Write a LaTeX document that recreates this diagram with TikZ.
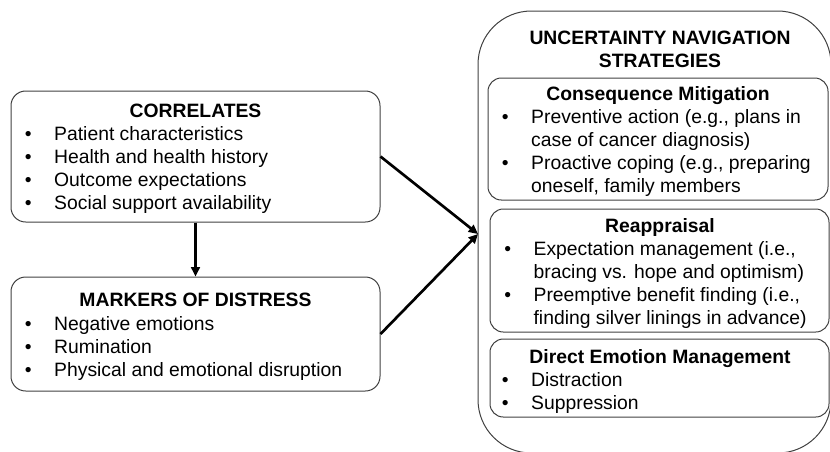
\documentclass[tikz,border=0pt]{standalone}
\usepackage{fontspec}
\setmainfont{Liberation Sans}
\usetikzlibrary{arrows.meta,fit}
\newcommand{\bul}{\makebox[22pt][l]{\textbullet}}

\begin{document}
\begin{tikzpicture}[x=0.75pt,y=0.75pt,yscale=-1,xscale=1,
  box/.style={draw={rgb, 255:red, 64; green, 64; blue, 64}, line width=0.75pt, inner sep=0pt},
  txt/.style={inner sep=0pt, font=\fontsize{14.5}{17.25}\selectfont},
  head/.style={txt, anchor=base, font=\fontsize{14.5}{17.25}\selectfont\bfseries},
  link/.style={line width=2pt, -{Triangle[length=7pt,width=6.5pt]}}]
\useasboundingbox (0,0) rectangle (830,451);

% left boxes
\node [box, rounded corners=11pt, fit={(11,91) (380,222)}] (corr) {};
\node [box, rounded corners=11pt, fit={(11,277) (380,391)}] (mark) {};

\node [head] (corrtitle) at (195.5,117) {CORRELATES};
\node [txt, anchor=base west] (corrlist) at (24.6,140) {\begin{tabular}[t]{@{}l@{}l@{}}
\bul & Patient characteristics\\
\bul & Health and health history\\
\bul & Outcome expectations\\
\bul & Social support availability
\end{tabular}};

\node [head] (marktitle) at (195.5,306) {MARKERS OF DISTRESS};
\node [txt, anchor=base west] (marklist) at (24.6,330) {\begin{tabular}[t]{@{}l@{}l@{}}
\bul & Negative emotions\\
\bul & Rumination\\
\bul & Physical and emotional disruption
\end{tabular}};

% right side
\node [box, rounded corners=40pt, fit={(478,11) (831,453)}] (outer) {};
\node [head] (outertitle) at (660,44) {\begin{tabular}[t]{@{}c@{}}
UNCERTAINTY NAVIGATION\\
STRATEGIES
\end{tabular}};

\node [box, rounded corners=10pt, fit={(488,78) (828,200)}] (conseq) {};
\node [head] (conseqtitle) at (658,100) {Consequence Mitigation};
\node [txt, anchor=base west] (conseqlist) at (501.6,123) {\begin{tabular}[t]{@{}l@{}l@{}}
\bul & Preventive action (e.g., plans in\\
     & case of cancer diagnosis)\\
\bul & Proactive coping (e.g., preparing\\
     & oneself, family members
\end{tabular}};

\node [box, rounded corners=10pt, fit={(490,209) (829,332)}] (reapp) {};
\node [head] (reapptitle) at (660,232) {Reappraisal};
\node [txt, anchor=base west] (reapplist) at (504,255) {\begin{tabular}[t]{@{}l@{}l@{}}
\bul & Expectation management (i.e.,\\
     & bracing vs. hope and optimism)\\
\bul & Preemptive benefit finding (i.e.,\\
     & finding silver linings in advance)
\end{tabular}};

\node [box, rounded corners=10pt, fit={(490,339) (829,417)}] (direct) {};
\node [head] (directtitle) at (660,363) {Direct Emotion Management};
\node [txt, anchor=base west] (directlist) at (501.6,386) {\begin{tabular}[t]{@{}l@{}l@{}}
\bul & Distraction\\
\bul & Suppression
\end{tabular}};

% connectors
\coordinate (tip) at (478,234);
\draw [link, line width=1.75pt] (corr.south) -- (mark.north);
\draw [link] (corr.east) -- (tip);
\draw [link] (mark.east) -- (tip);

\end{tikzpicture}
\end{document}
